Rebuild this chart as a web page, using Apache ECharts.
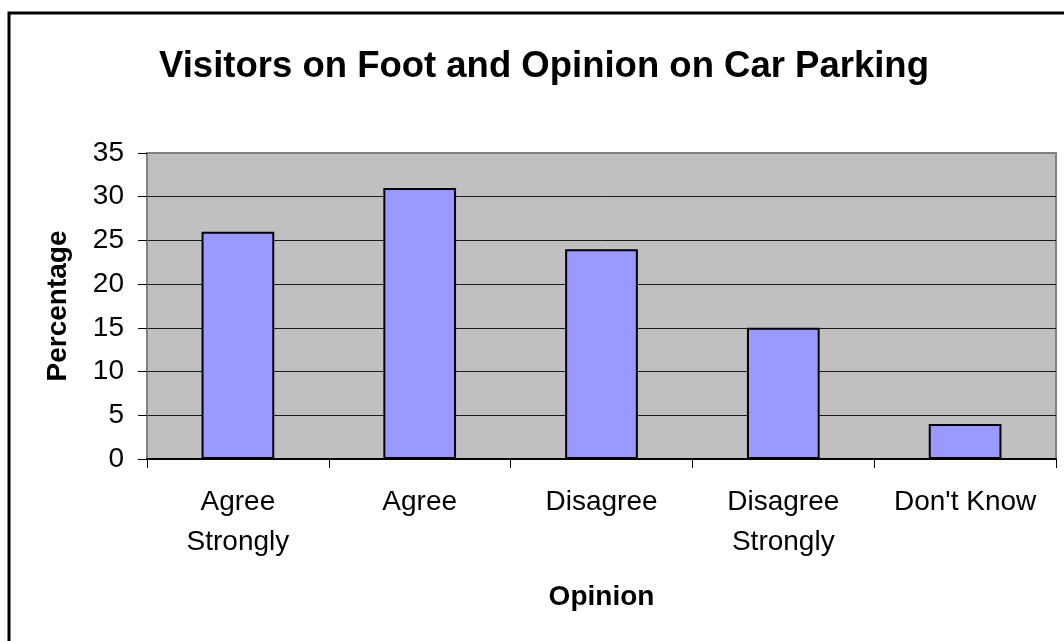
<!DOCTYPE html>
<html>
<head>
<meta charset="utf-8">
<script src="https://cdn.jsdelivr.net/npm/echarts@6/dist/echarts.min.js"></script>
<style>
  html, body { margin: 0; padding: 0; background: #fff; }
  #chart { width: 1064px; height: 641px; }
</style>
</head>
<body>
<div id="chart"></div>
<script>
var categories = ["Agree\nStrongly", "Agree", "Disagree", "Disagree\nStrongly", "Don't Know"];
var percentages = [26, 31, 24, 15, 4];
var yTicks = [0, 5, 10, 15, 20, 25, 30, 35];

var font = "'Liberation Sans', Arial, sans-serif";

// grid lines are black, the top one sits on the grey plot border
var splitColors = yTicks.map(function (t, i) {
  return i === yTicks.length - 1 ? "#808080" : "#1a1a1a";
});

var chart = echarts.init(document.getElementById("chart"));

var option = {
  animation: false,
  backgroundColor: "#fff",
  title: {
    text: "Visitors on Foot and Opinion on Car Parking",
    left: 539,
    top: 43,
    textAlign: "center",
    textStyle: {
      fontFamily: font,
      fontSize: 36.5,
      fontWeight: "bold",
      color: "#000",
    },
  },
  graphic: [
    {
      type: "rect",
      shape: { x: 9, y: 13, width: 1200, height: 1000 },
      style: { fill: "none", stroke: "#000", lineWidth: 3 },
      silent: true,
    },
  ],
  grid: {
    left: 147,
    right: 8,
    top: 153,
    bottom: 182,
    show: true,
    backgroundColor: "#C0C0C0",
    borderColor: "#808080",
    borderWidth: 2,
  },
  xAxis: {
    type: "category",
    data: categories,
    name: "Opinion",
    nameLocation: "middle",
    nameGap: 124,
    nameTextStyle: {
      fontFamily: font,
      fontSize: 28,
      fontWeight: "bold",
      color: "#000",
    },
    axisLine: { lineStyle: { color: "#000", width: 2 } },
    axisTick: { show: true, length: 9, lineStyle: { color: "#000" } },
    axisLabel: {
      interval: 0,
      margin: 23,
      fontFamily: font,
      fontSize: 28,
      lineHeight: 40,
      color: "#000",
    },
    splitLine: { show: false },
  },
  yAxis: {
    type: "value",
    min: 0,
    max: 35,
    interval: 5,
    name: "Percentage",
    nameLocation: "middle",
    nameRotate: 90,
    nameGap: 75,
    nameTextStyle: {
      fontFamily: font,
      fontSize: 28,
      fontWeight: "bold",
      color: "#000",
    },
    axisLine: { show: true, lineStyle: { color: "#808080", width: 2 } },
    axisTick: { show: true, length: 9, lineStyle: { color: "#000" } },
    axisLabel: {
      margin: 23,
      fontFamily: font,
      fontSize: 28,
      color: "#000",
    },
    splitLine: { show: true, lineStyle: { color: splitColors, width: 1 } },
  },
  series: [
    {
      type: "bar",
      data: percentages,
      barCategoryGap: "60%",
      itemStyle: {
        color: "#9999FF",
        borderColor: "#000",
        borderWidth: 2,
      },
    },
  ],
};

chart.setOption(option);
</script>
</body>
</html>
